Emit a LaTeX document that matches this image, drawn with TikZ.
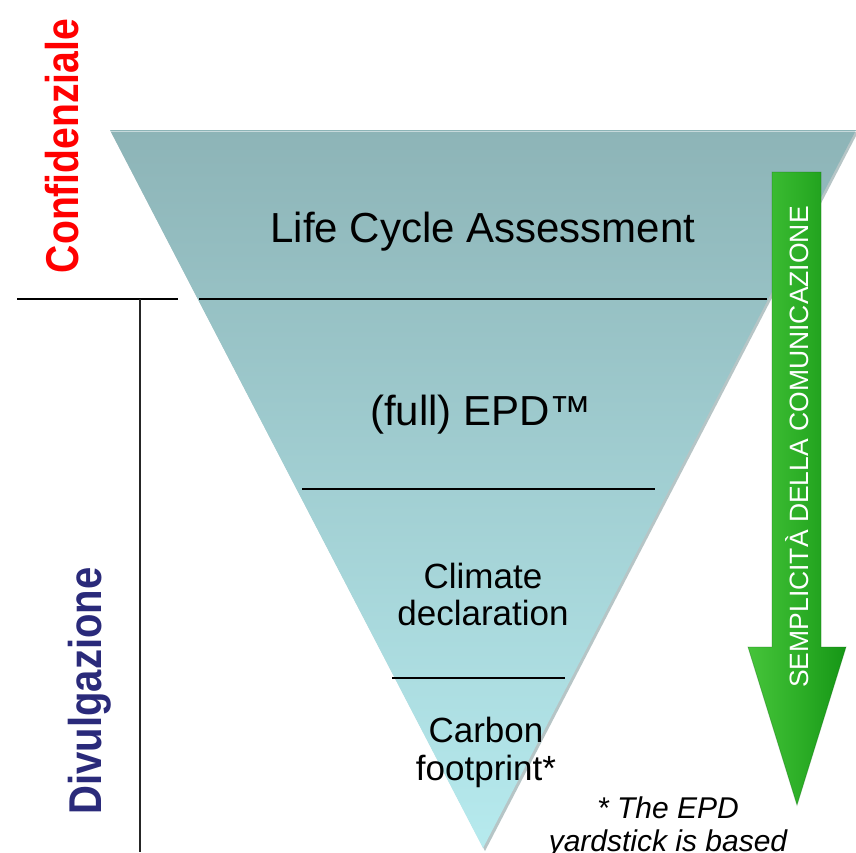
\documentclass[tikz,border=0pt]{standalone}
\usepackage{fontspec}
\setmainfont{Liberation Sans}
\definecolor{funneltop}{RGB}{141,180,183}
\definecolor{funnelbottom}{RGB}{182,234,238}
\definecolor{funneledge}{RGB}{110,140,142}
\definecolor{arrowlight}{RGB}{70,196,58}
\definecolor{arrowmid}{RGB}{46,176,40}
\definecolor{arrowdark}{RGB}{22,150,22}
\definecolor{navy}{RGB}{42,42,122}
\begin{document}
\begin{tikzpicture}[x=1pt,y=-1pt,
  divider/.style={line width=2pt,black},
  level/.style={align=center,text=black,inner sep=0pt},
  sidelabel/.style={rotate=90,inner sep=0pt,font=\fontsize{46}{50}\selectfont\bfseries},
]
\useasboundingbox[fill=white] (0,0) rectangle (856,852);

% funnel corners
\coordinate (tl) at (110,130);
\coordinate (tr) at (856,130);
\coordinate (apex) at (483,848);

% soft shadow and body of the funnel
\fill[funneledge,opacity=0.5] (111,132) -- (858,132) -- (485,851) -- cycle;
\shade[top color=funneltop,bottom color=funnelbottom] (tl) -- (tr) -- (apex) -- cycle;
\draw[white,opacity=0.5,line width=1pt] (111,131) -- (855,131);

% level dividers inside the funnel
\coordinate (d1l) at (199,299); \coordinate (d1r) at (767,299);
\coordinate (d2l) at (302,489); \coordinate (d2r) at (655,489);
\coordinate (d3l) at (392,678); \coordinate (d3r) at (565,678);
\draw[divider] (d1l) -- (d1r);
\draw[divider] (d2l) -- (d2r);
\draw[divider] (d3l) -- (d3r);

% level names
\node[level,font=\fontsize{42}{48}\selectfont] (lca) at (483,232) {Life Cycle Assessment};
\node[level,font=\fontsize{42}{48}\selectfont] (epd) at (481,415) {(full) EPD™};
\node[level,font=\fontsize{35}{37}\selectfont] (climate) at (483,594) {Climate\\declaration};
\node[level,font=\fontsize{35}{38}\selectfont] (carbon) at (486,752) {Carbon\\footprint*};

% footnote
\node[level,font=\fontsize{30}{33}\selectfont\itshape] (note) at (668,827) {* The EPD\\yardstick is based};

% left-hand split between confidential and public parts
\coordinate (sl) at (17,299); \coordinate (sr) at (178,299);
\coordinate (vt) at (140,299); \coordinate (vb) at (140,852);
\draw[divider] (sl) -- (sr);
\draw[line width=1.3pt,black!85] (vt) -- (vb);

\node[sidelabel,text=red] (conf) at (62,146) {\scalebox{0.85}[1]{Confidenziale}};
\node[sidelabel,text=navy] (divu) at (90,691) {\scalebox{0.87}[1]{Divulgazione}};

% downward arrow
\shade[left color=arrowlight,right color=arrowdark,middle color=arrowmid]
  (772,172) -- (821,172) -- (821,647) -- (846,647) -- (797,805) -- (748,647) -- (772,647) -- cycle;
\draw[arrowdark!70!black,opacity=0.35,line width=0.8pt]
  (772,172) -- (821,172) -- (821,647) -- (846,647) -- (797,805) -- (748,647) -- (772,647) -- cycle;
\node[rotate=90,text=white,inner sep=0pt,font=\fontsize{26.5}{30}\selectfont] (simp) at (797,447) {SEMPLICITÀ DELLA COMUNICAZIONE};
\end{tikzpicture}
\end{document}
